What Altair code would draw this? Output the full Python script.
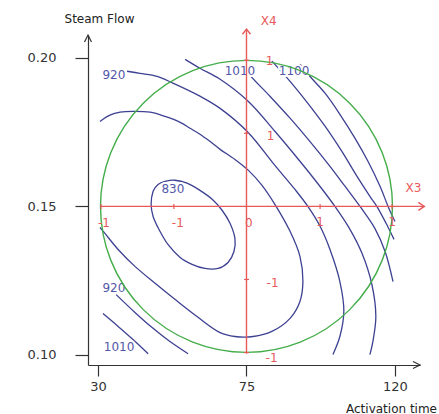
import altair as alt
import pandas as pd

# ---------------- data ----------------
# closed minimum contour (830)
c830_x = [46.1, 46.7, 48.2, 50.3, 53.3, 57.0, 60.9, 64.6, 67.6, 70.0, 71.5, 71.2,
          69.4, 66.4, 62.4, 58.5, 54.9, 51.2, 48.5, 46.7]
c830_y = [0.1507, 0.1551, 0.1574, 0.1584, 0.1588, 0.1578, 0.1554, 0.1524, 0.1487, 0.1443,
          0.1392, 0.1348, 0.1311, 0.1291, 0.1291, 0.1305, 0.1328, 0.1372, 0.1422, 0.1466]

c875_x = [30.6, 33.6, 36.7, 40.6, 45.8, 50.3, 54.9, 57.9, 60.9, 63.9, 67.0, 71.5, 75.5,
          79.7, 83.6, 88.2, 91.2, 92.1, 91.2, 88.2, 82.7, 77.0, 71.5, 67.0, 60.0, 53.3,
          47.3, 41.2, 36.1, 32.1, 30.6]
c875_y = [0.1786, 0.1807, 0.1817, 0.1820, 0.1817, 0.1803, 0.1783, 0.1763, 0.1743, 0.1719,
          0.1692, 0.1658, 0.1622, 0.1571, 0.1507, 0.1416, 0.1332, 0.1247, 0.1180, 0.1123,
          0.1079, 0.1062, 0.1062, 0.1075, 0.1129, 0.1187, 0.1241, 0.1298, 0.1355, 0.1409,
          0.1429]

c920a_x = [38.8, 42.7, 47.9, 52.7, 60.9, 67.0, 75.5, 83.6, 89.7, 93.6, 97.3, 100.3,
           103.3, 104.5, 103.3, 101.2]
c920a_y = [0.1955, 0.1948, 0.1938, 0.1915, 0.1871, 0.1830, 0.1749, 0.1638, 0.1557, 0.1500,
           0.1433, 0.1355, 0.1247, 0.1146, 0.1062, 0.1001]

c920b_x = [35.5, 41.2, 46.4, 51.8, 57.3]
c920b_y = [0.1203, 0.1143, 0.1092, 0.1045, 0.1004]

c965_x = [56.4, 60.9, 67.0, 75.5, 83.6, 91.2, 97.3, 101.8, 106.4, 110.0, 113.0, 114.2,
          113.3, 112.4]
c965_y = [0.1995, 0.1965, 0.1928, 0.1854, 0.1753, 0.1652, 0.1567, 0.1500, 0.1422, 0.1342,
          0.1237, 0.1129, 0.1045, 0.1001]

c1010a_x = [74.0, 76.1, 82.1, 88.2, 94.2, 100.3, 104.9, 109.4, 113.9, 117.0, 119.4]
c1010a_y = [0.1975, 0.1941, 0.1871, 0.1797, 0.1719, 0.1635, 0.1567, 0.1500, 0.1426, 0.1348,
            0.1247]

c1010b_x = [31.5, 36.1, 40.6, 45.2]
c1010b_y = [0.1139, 0.1096, 0.1052, 0.1004]

c1055_x = [82.7, 88.2, 93.6, 98.8, 103.9, 108.5, 112.4, 114.5, 117.3, 119.7]
c1055_y = [0.1989, 0.1921, 0.1847, 0.1770, 0.1685, 0.1601, 0.1534, 0.1500, 0.1443, 0.1389]

c1100_x = [91.2, 94.2, 98.8, 103.3, 107.9, 111.8, 115.5, 117.9, 120.0]
c1100_y = [0.1979, 0.1938, 0.1881, 0.1810, 0.1729, 0.1652, 0.1567, 0.1500, 0.1449]

# contour value labels
lab_text = ["920", "830", "1010", "1100", "920", "1010"]
lab_x = [34.8, 52.7, 73.0, 89.4, 34.8, 36.4]
lab_y = [0.1941, 0.1557, 0.1955, 0.1955, 0.1224, 0.1028]

# design-space circle (centre point) and coded axes
circle_x = [75.0]
circle_y = [0.15]
x3_ticks = [30.9, 53.0, 97.3, 119.1]
x4_ticks = [0.1008, 0.1254, 0.1746, 0.1992]
x3_lab_text = ["-1", "-1", "0", "1", "1"]
x3_lab_x = [31.8, 54.2, 75.7, 97.3, 119.1]
x3_lab_y = [0.1443, 0.1443, 0.1443, 0.1449, 0.1449]
x4_lab_text = ["1", "1", "-1", "-1"]
x4_lab_x = [82.0, 82.3, 82.9, 82.6]
x4_lab_y = [0.1989, 0.1736, 0.1241, 0.0988]
axis_names = ["X3", "X4"]
axis_names_x = [125.6, 81.7]
axis_names_y = [0.1561, 0.2123]

x_ticks = [30, 75, 120]
y_ticks = [0.10, 0.15, 0.20]

# ---------------- tables ----------------
open_curves = [("875", c875_x, c875_y), ("920a", c920a_x, c920a_y), ("920b", c920b_x, c920b_y),
               ("965", c965_x, c965_y), ("1010a", c1010a_x, c1010a_y),
               ("1010b", c1010b_x, c1010b_y), ("1055", c1055_x, c1055_y),
               ("1100", c1100_x, c1100_y)]
rows = []
for name, xs, ys in open_curves:
    for i, (a, b) in enumerate(zip(xs, ys)):
        rows.append({"id": name, "i": i, "x": a, "y": b})
df_open = pd.DataFrame(rows)
df_830 = pd.DataFrame({"i": range(len(c830_x)), "x": c830_x, "y": c830_y})
df_lab = pd.DataFrame({"t": lab_text, "x": lab_x, "y": lab_y})
df_circle = pd.DataFrame({"x": circle_x, "y": circle_y})

X_MIN, X_MAX = 26.97, 127.58
Y_MIN, Y_MAX = 0.0966, 0.2077

FONT = "DejaVu Sans"
AX = "#333333"
RED = "#e85a5a"
BLUE = "#3d4192"
LBLUE = "#5257a8"
GREEN = "#45ad4b"

xs = alt.Scale(domain=[X_MIN, X_MAX], nice=False, zero=False)
ys = alt.Scale(domain=[Y_MIN, Y_MAX], nice=False, zero=False)

xaxis = alt.Axis(values=x_ticks, title="Activation time", grid=False, domainColor=AX,
                 domainWidth=1.2, tickColor=AX, tickSize=11, tickWidth=1.2,
                 labelFont=FONT, labelFontSize=13, labelColor=AX, labelPadding=4,
                 labelFlush=False, titleFont=FONT, titleFontSize=12,
                 titleFontWeight="normal", titleColor="#222222", titleX=303, titleY=43,
                 titleAlign="center", titleBaseline="middle")
yaxis = alt.Axis(values=y_ticks, format=".2f", title="Steam Flow", grid=False,
                 domainColor=AX, domainWidth=1.2, tickColor=AX, tickSize=13, tickWidth=1.2,
                 labelFont=FONT, labelFontSize=13, labelColor=AX, labelPadding=19,
                 labelFlush=False, titleFont=FONT, titleFontSize=12,
                 titleFontWeight="normal", titleColor="#222222", titleAngle=0, titleX=11,
                 titleY=-17, titleAlign="center", titleBaseline="middle")


def X():
    return alt.X("x:Q", scale=xs, axis=xaxis)


def Y():
    return alt.Y("y:Q", scale=ys, axis=yaxis)


lines = alt.Chart(df_open).mark_line(color=BLUE, strokeWidth=1.3,
                                     interpolate="catmull-rom").encode(
    x=X(), y=Y(), detail="id:N", order="i:Q")
ring830 = alt.Chart(df_830).mark_line(color=BLUE, strokeWidth=1.3,
                                      interpolate="cardinal-closed").encode(
    x=X(), y=Y(), order="i:Q")

halo = alt.Chart(df_lab).mark_text(font=FONT, fontSize=12, fill="white", stroke="white",
                                   strokeWidth=4, baseline="middle").encode(
    x=X(), y=Y(), text="t:N")
labels = alt.Chart(df_lab).mark_text(font=FONT, fontSize=12, color=LBLUE,
                                     baseline="middle").encode(x=X(), y=Y(), text="t:N")

circle = alt.Chart(df_circle).mark_point(shape="circle", size=85264, filled=False,
                                         stroke=GREEN, strokeWidth=1.4, opacity=1).encode(
    x=X(), y=Y())

# coded red axes
df_hline = pd.DataFrame({"x": [x3_ticks[0]], "x2": [128.9], "y": [0.15]})
df_vline = pd.DataFrame({"x": [75.0], "y": [x4_ticks[0] - 0.0004], "y2": [0.2097]})
hline = alt.Chart(df_hline).mark_rule(color=RED, strokeWidth=1.4).encode(
    x=X(), x2="x2:Q", y=Y())
vline = alt.Chart(df_vline).mark_rule(color=RED, strokeWidth=1.4).encode(
    x=X(), y=Y(), y2="y2:Q")
harrow = alt.Chart(pd.DataFrame({"x": [128.9], "y": [0.15]})).mark_point(
    shape="M-1.5,-1L0,0L-1.5,1", size=64, filled=False, stroke=RED, strokeWidth=1.4,
    opacity=1).encode(x=X(), y=Y())
varrow = alt.Chart(pd.DataFrame({"x": [75.0], "y": [0.2097]})).mark_point(
    shape="M-1,1.3L0,0L1,1.3", size=64, filled=False, stroke=RED, strokeWidth=1.4,
    opacity=1).encode(x=X(), y=Y())
hticks = alt.Chart(pd.DataFrame({"x": x3_ticks, "y": [0.15] * len(x3_ticks)})).mark_point(
    shape="M0,-1L0,1", size=25, filled=False, stroke=RED, strokeWidth=1.2,
    opacity=1).encode(x=X(), y=Y())
vticks = alt.Chart(pd.DataFrame({"x": [75.0] * len(x4_ticks), "y": x4_ticks})).mark_point(
    shape="M-1,0L1,0", size=25, filled=False, stroke=RED, strokeWidth=1.2,
    opacity=1).encode(x=X(), y=Y())
red_labels = alt.Chart(pd.DataFrame({
    "t": x3_lab_text + x4_lab_text + axis_names,
    "x": x3_lab_x + x4_lab_x + axis_names_x,
    "y": x3_lab_y + x4_lab_y + axis_names_y})).mark_text(
    font=FONT, fontSize=12, color=RED, baseline="middle").encode(x=X(), y=Y(), text="t:N")

# axis arrowheads
yarrow = alt.Chart(pd.DataFrame({"x": [X_MIN], "y": [Y_MAX]})).mark_point(
    shape="M-1,2L0,0L1,2", size=49, filled=False, stroke=AX, strokeWidth=1.2,
    opacity=1).encode(x=X(), y=Y())
xarrow = alt.Chart(pd.DataFrame({"x": [X_MAX], "y": [Y_MIN]})).mark_point(
    shape="M-2,-1L0,0L-2,1", size=49, filled=False, stroke=AX, strokeWidth=1.2,
    opacity=1).encode(x=X(), y=Y())

chart = alt.layer(
    lines, ring830, halo, labels, circle, hline, vline, harrow, varrow, hticks, vticks,
    red_labels, yarrow, xarrow
).properties(
    width=332, height=330,
    padding={"left": 88, "top": 35, "right": 19, "bottom": 49},
    autosize=alt.AutoSizeParams(type="none"),
    background="white",
).configure_view(stroke=None)

chart.save("out.html", embed_options={"renderer": "svg", "actions": False})
